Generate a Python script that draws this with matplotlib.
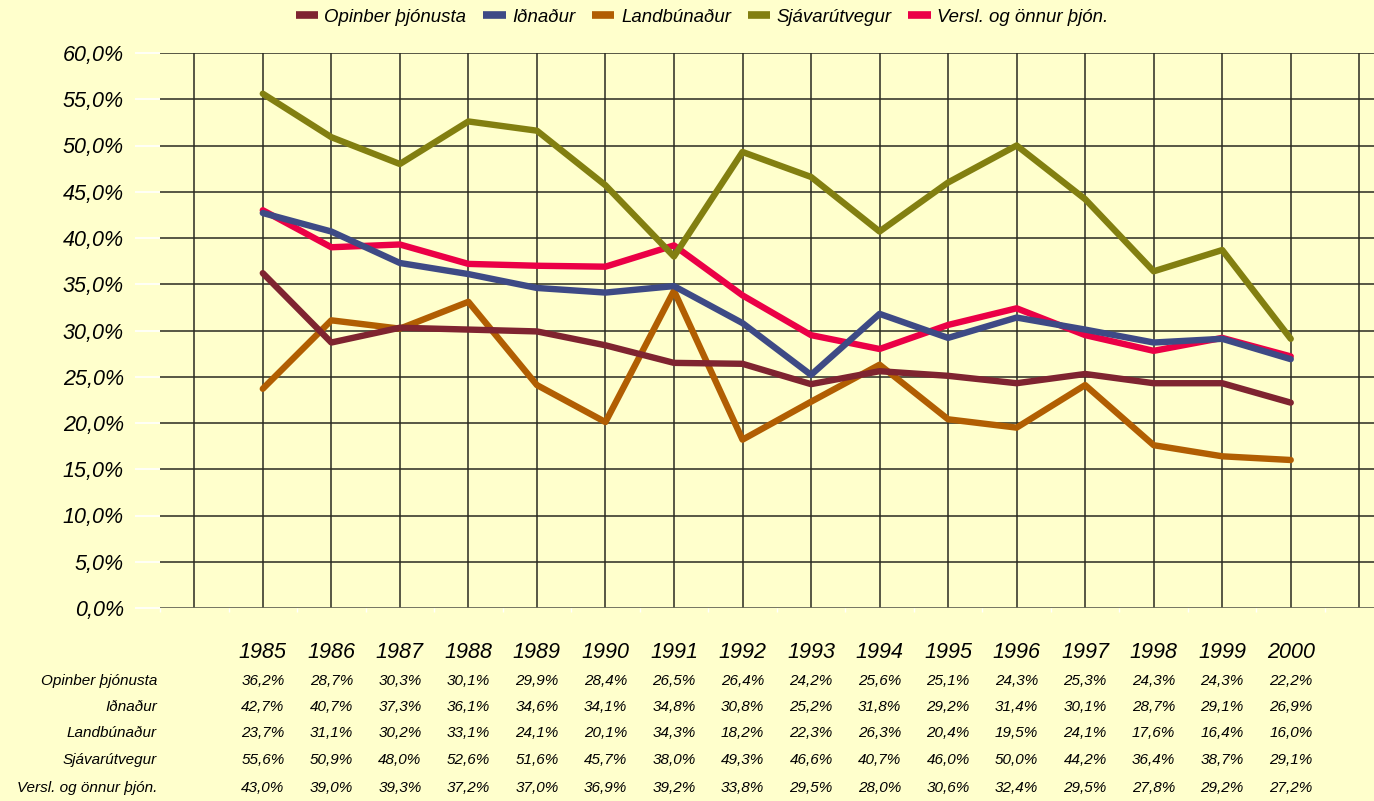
import matplotlib

matplotlib.use("Agg")
import matplotlib.pyplot as plt
import matplotlib.transforms as mtransforms
import numpy as np

# ---------------------------------------------------------------------------
# Data
# ---------------------------------------------------------------------------
years = ["1985", "1986", "1987", "1988", "1989", "1990", "1991", "1992",
         "1993", "1994", "1995", "1996", "1997", "1998", "1999", "2000"]

series_names = [
    "Opinber þjónusta",
    "Iðnaður",
    "Landbúnaður",
    "Sjávarútvegur",
    "Versl. og önnur þjón.",
]

opinber = [36.2, 28.7, 30.3, 30.1, 29.9, 28.4, 26.5, 26.4,
           24.2, 25.6, 25.1, 24.3, 25.3, 24.3, 24.3, 22.2]
idnadur = [42.7, 40.7, 37.3, 36.1, 34.6, 34.1, 34.8, 30.8,
           25.2, 31.8, 29.2, 31.4, 30.1, 28.7, 29.1, 26.9]
landbunadur = [23.7, 31.1, 30.2, 33.1, 24.1, 20.1, 34.3, 18.2,
               22.3, 26.3, 20.4, 19.5, 24.1, 17.6, 16.4, 16.0]
sjavarutvegur = [55.6, 50.9, 48.0, 52.6, 51.6, 45.7, 38.0, 49.3,
                 46.6, 40.7, 46.0, 50.0, 44.2, 36.4, 38.7, 29.1]
versl = [43.0, 39.0, 39.3, 37.2, 37.0, 36.9, 39.2, 33.8,
         29.5, 28.0, 30.6, 32.4, 29.5, 27.8, 29.2, 27.2]

series_values = [opinber, idnadur, landbunadur, sjavarutvegur, versl]
series_colors = ["#7F2430", "#3E4A85", "#B15E02", "#827F10", "#EB0046"]
z_order = [7, 6, 5, 4, 3]

y_ticks = [0, 5, 10, 15, 20, 25, 30, 35, 40, 45, 50, 55, 60]

# ---------------------------------------------------------------------------
# Style
# ---------------------------------------------------------------------------
BG = "#FFFFCC"
plt.rcParams.update({
    "font.family": ["Liberation Sans", "DejaVu Sans"],
    "font.style": "italic",
})


def fmt_pct(v):
    return f"{v:.1f}%".replace(".", ",")


def main():
    W, H = 1374.0, 801.0
    fig = plt.figure(figsize=(W / 100, H / 100), dpi=100, facecolor=BG)
    # plot area in pixels: left 160, top 53 (60%), bottom 608 (0%)
    left, right, top, bottom = 160, 1374, 53, 608
    ax = fig.add_axes([left / W, 1 - bottom / H, (right - left) / W,
                       (bottom - top) / H])
    ax.set_facecolor(BG)

    x = np.arange(len(years))
    step = 68.53
    x_lo = -1.5
    x_hi = x_lo + (right - left) / step

    # grid
    for gx in np.arange(-1, 17):
        ax.axvline(gx, color="#2a2a20", lw=1.1, zorder=1)
    for gy in y_ticks[1:]:
        ax.axhline(gy, color="#2a2a20", lw=1.1, zorder=1)
    ax.axhline(0, color="#6a6a5a", lw=1.3, zorder=1)

    for name, vals, col, z in zip(series_names, series_values,
                                  series_colors, z_order):
        ax.plot(x, vals, color=col, lw=4.6, solid_capstyle="round",
                solid_joinstyle="round", label=name, zorder=z)

    for sp in ax.spines.values():
        sp.set_visible(False)

    ax.set_yticks(y_ticks)
    ax.set_yticklabels([fmt_pct(v) for v in y_ticks], fontsize=15.5,
                       style="italic")
    ax.tick_params(axis="y", length=18, width=1.2, color="white", pad=8)
    ax.set_xticks(np.arange(-1.5, x_hi, 1.0))
    ax.tick_params(axis="x", length=3, width=1.0, color="white",
                   labelbottom=False)
    ax.set_xlim(x_lo, x_hi)
    ax.set_ylim(0, 60)

    # data table below the plot (x in data units, y in figure pixels)
    trans = mtransforms.blended_transform_factory(ax.transData,
                                                  fig.transFigure)
    for i, yr in enumerate(years):
        ax.text(i, 1 - 653 / H, yr, transform=trans, ha="center",
                va="center", fontsize=15.5, style="italic", clip_on=False)
    row_y = [681, 707, 733, 760, 788]
    for name, vals, ry in zip(series_names, series_values, row_y):
        fig.text(157 / W, 1 - ry / H, name, ha="right", va="center",
                 fontsize=11, style="italic")
        for i, v in enumerate(vals):
            ax.text(i, 1 - ry / H, fmt_pct(v), transform=trans,
                    ha="center", va="center", fontsize=11,
                    style="italic", clip_on=False)

    leg = fig.legend(loc="center", bbox_to_anchor=(702 / W, 1 - 17 / H),
                     ncol=5, frameon=False, fontsize=13.4,
                     handlelength=1.2, handletextpad=0.35,
                     columnspacing=0.9)
    for line in leg.get_lines():
        line.set_linewidth(5.5)
        line.set_solid_capstyle("butt")

    fig.savefig("out.png", dpi=100, facecolor=BG)
    plt.close(fig)


if __name__ == "__main__":
    main()
